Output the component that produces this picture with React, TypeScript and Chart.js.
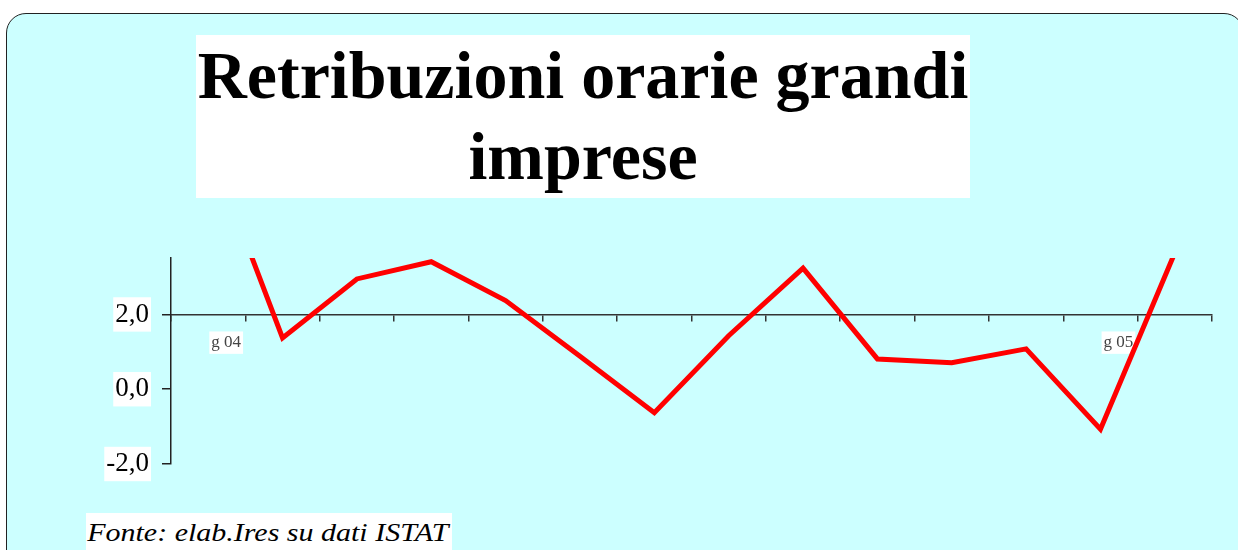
import React, { useEffect, useRef } from "react";
import { Chart, registerables } from "chart.js";

Chart.register(...registerables);

const xLabels = ["g 04", "", "", "", "", "", "", "", "", "", "", "", "g 05", ""];
const values = [6.6, 1.37, 2.95, 3.41, 2.37, 0.88, -0.63, 1.43, 3.24, 0.81, 0.71, 1.08, -1.07, 3.65];
const yMin = -2;
const yMax = 3.51;
const yStep = 2;
const titleLines = ["Retribuzioni orarie grandi", "imprese"];
const sourceText = "Fonte: elab.Ires su dati ISTAT";

export default function App() {
  const canvasRef = useRef<HTMLCanvasElement | null>(null);

  useEffect(() => {
    if (!canvasRef.current) return;
    const chart = new Chart(canvasRef.current, {
      type: "line",
      data: {
        labels: xLabels,
        datasets: [
          {
            data: values,
            borderColor: "#ff0000",
            borderWidth: 5,
            pointRadius: 0,
            pointHoverRadius: 0,
            tension: 0,
            fill: false,
            borderJoinStyle: "miter",
            clip: 0,
          },
        ],
      },
      options: {
        animation: false,
        responsive: false,
        events: [],
        layout: { padding: { left: 0, top: 258, right: 26, bottom: 86 } },
        plugins: { legend: { display: false }, tooltip: { enabled: false }, title: { display: false } },
        scales: {
          x: {
            type: "category",
            position: { y: 2 } as any,
            offset: true,
            grid: { offset: true, drawOnChartArea: false, drawTicks: true, tickLength: 6, color: "#333", lineWidth: 1.5 },
            border: { display: true, color: "#333", width: 1.5 },
            ticks: {
              autoSkip: false,
              maxRotation: 0,
              minRotation: 0,
              labelOffset: 18,
              padding: 12,
              color: "#444",
              font: { family: "'Liberation Serif', 'Times New Roman', serif", size: 17 },
              showLabelBackdrop: true,
              backdropColor: (ctx: any) => (ctx.tick && ctx.tick.label ? "#ffffff" : "rgba(0,0,0,0)"),
              backdropPadding: { x: 2, y: 1 },
            } as any,
          },
          y: {
            type: "linear",
            min: yMin,
            max: yMax,
            bounds: "data",
            afterBuildTicks: (scale: any) => {
              scale.ticks = scale.ticks.filter((t: any) => Math.abs(t.value / yStep - Math.round(t.value / yStep)) < 1e-9);
            },
            afterFit: (scale: any) => {
              scale.width = 171;
            },
            grid: { drawOnChartArea: false, drawTicks: true, tickLength: 9, color: "#222", lineWidth: 1.5 },
            border: { display: true, color: "#222", width: 1.5 },
            ticks: {
              stepSize: yStep,
              includeBounds: false,
              padding: 13,
              color: "#000",
              font: { family: "'Liberation Serif', 'Times New Roman', serif", size: 27 },
              callback: (v: any) => Number(v).toFixed(1).replace(".", ","),
              showLabelBackdrop: true,
              backdropColor: "#ffffff",
              backdropPadding: { x: 2, y: 1 },
            } as any,
          },
        },
      } as any,
    });
    return () => chart.destroy();
  }, []);

  return (
    <div style={{ position: "fixed", left: 0, top: 0, width: 1238, height: 550, overflow: "hidden", background: "#ffffff" }}>
      <div
        style={{
          position: "absolute",
          left: 6,
          top: 13,
          width: 1236,
          height: 620,
          background: "#ccffff",
          border: "1.5px solid #222",
          borderRadius: 20,
        }}
      />
      <div
        style={{
          position: "absolute",
          left: 196,
          top: 35,
          width: 774,
          height: 163,
          background: "#ffffff",
          textAlign: "center",
          fontFamily: "'Liberation Serif', 'Times New Roman', serif",
          fontWeight: "bold",
          fontSize: 68,
          lineHeight: "81px",
          color: "#000",
          whiteSpace: "nowrap",
        }}
      >
        {titleLines.map((t, i) => (
          <div key={i}>{t}</div>
        ))}
      </div>
      <div
        style={{
          position: "absolute",
          left: 86,
          top: 513,
          padding: "0 3px 0 1px",
          background: "#ffffff",
          fontFamily: "'Liberation Serif', 'Times New Roman', serif",
          fontStyle: "italic",
          fontSize: 25,
          lineHeight: "40px",
          color: "#000",
          whiteSpace: "nowrap",
          transform: "scaleX(1.2)",
          transformOrigin: "0 0",
        }}
      >
        {sourceText}
      </div>
      <canvas
        ref={canvasRef}
        width={1238}
        height={550}
        style={{ position: "absolute", left: 0, top: 0, width: 1238, height: 550 }}
      />
    </div>
  );
}
